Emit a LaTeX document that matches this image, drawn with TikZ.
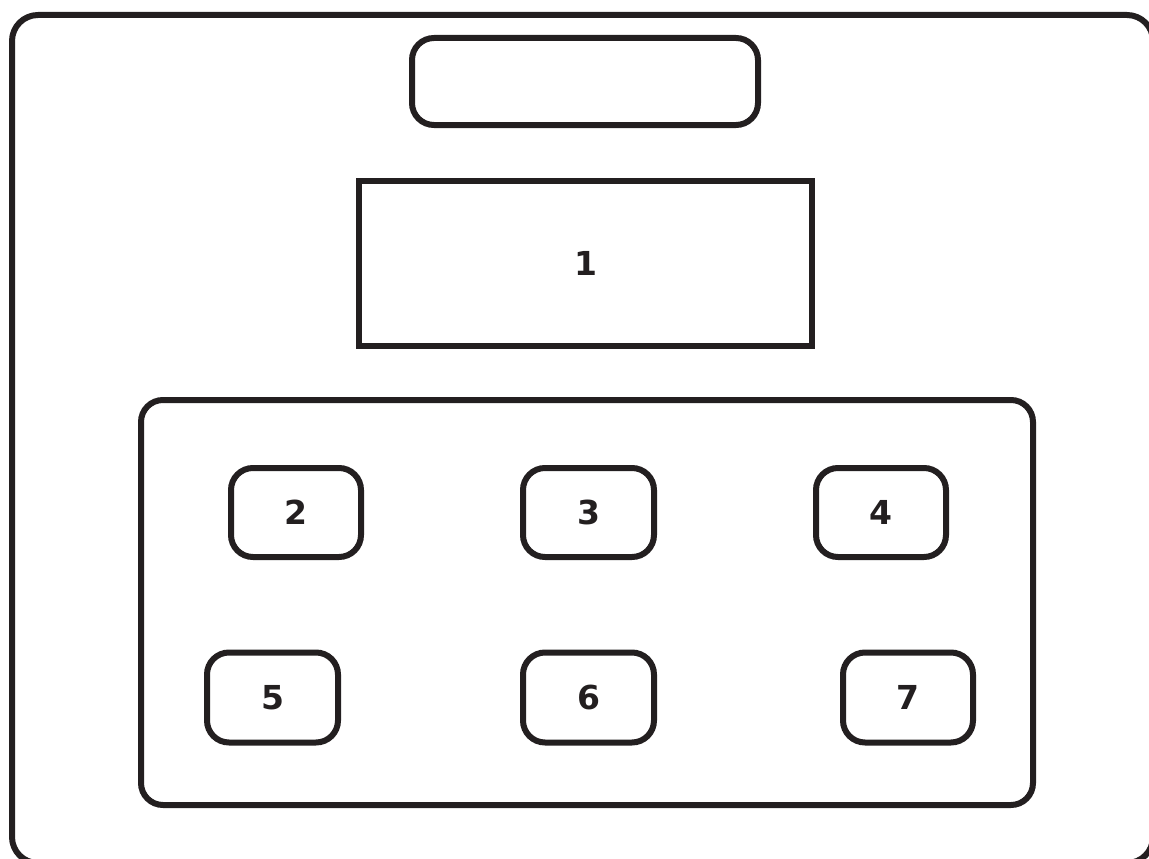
\documentclass[tikz,border=0pt]{standalone}
\usepackage{fontspec}
\setmainfont{DejaVu Sans}
\definecolor{ink}{HTML}{231F20}
\begin{document}
\begin{tikzpicture}[x=1pt,y=-1pt,
  box/.style={draw=ink,line width=6pt,rounded corners=22pt,inner sep=0pt},
  lab/.style={font=\bfseries\fontsize{33}{36}\selectfont,text=ink}]
\useasboundingbox (0,0) rectangle (1149,859);
\draw[ink,line width=6pt,rounded corners=26pt] (12,15) rectangle (1153,863);
\node[box,minimum width=346pt,minimum height=87pt] (top) at (585,81.5) {};
\node[box,rounded corners=0pt,minimum width=453pt,minimum height=165pt,lab] (n1) at (585.5,263.5) {1};
\node[box,minimum width=892pt,minimum height=405pt] (cont) at (587,602.5) {};
\node[box,minimum width=130pt,minimum height=89pt,lab] (n2) at (296,512.5) {2};
\node[box,minimum width=131pt,minimum height=89pt,lab] (n3) at (588.5,512.5) {3};
\node[box,minimum width=130pt,minimum height=89pt,lab] (n4) at (881,512.5) {4};
\node[box,minimum width=131pt,minimum height=90pt,lab] (n5) at (272.5,697.5) {5};
\node[box,minimum width=131pt,minimum height=90pt,lab] (n6) at (588.5,697.5) {6};
\node[box,minimum width=130pt,minimum height=90pt,lab] (n7) at (908,697.5) {7};
\end{tikzpicture}
\end{document}
